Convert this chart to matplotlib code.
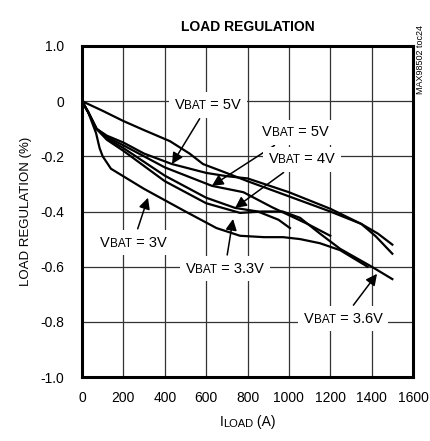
import matplotlib
matplotlib.use("Agg")
import matplotlib.pyplot as plt
from matplotlib.offsetbox import TextArea, HPacker, AnnotationBbox

plt.rcParams['font.family'] = ['Liberation Sans', 'DejaVu Sans']

# courbes (I_LOAD en A, regulation en %)
x_5v_a = [0, 100, 200, 300, 425, 520, 585, 680, 800, 1000, 1200, 1350, 1420, 1500]
y_5v_a = [0, -0.035, -0.072, -0.105, -0.145, -0.19, -0.228, -0.255, -0.29, -0.345, -0.40, -0.445, -0.49, -0.553]

x_5v_b = [0, 30, 70, 120, 200, 300, 435, 600, 700, 800, 1000, 1200, 1350, 1430, 1500]
y_5v_b = [0, -0.04, -0.10, -0.125, -0.15, -0.19, -0.228, -0.26, -0.272, -0.28, -0.33, -0.39, -0.445, -0.48, -0.52]

x_4v = [0, 30, 70, 120, 200, 400, 628, 780, 920, 1090, 1200]
y_4v = [0, -0.04, -0.10, -0.13, -0.16, -0.24, -0.307, -0.33, -0.385, -0.445, -0.488]

x_3v6 = [0, 30, 70, 120, 200, 400, 600, 740, 850, 950, 1005]
y_3v6 = [0, -0.04, -0.10, -0.135, -0.17, -0.27, -0.35, -0.387, -0.40, -0.43, -0.46]

x_3v3 = [0, 30, 70, 120, 200, 400, 600, 764, 870, 970, 1054, 1150, 1247, 1400, 1500]
y_3v3 = [0, -0.04, -0.10, -0.14, -0.18, -0.29, -0.37, -0.405, -0.40, -0.40, -0.423, -0.48, -0.535, -0.60, -0.645]

x_3v = [0, 30, 68, 85, 100, 140, 300, 500, 650, 764, 880, 972, 1054, 1150, 1247, 1380]
y_3v = [0, -0.04, -0.116, -0.17, -0.20, -0.245, -0.318, -0.40, -0.46, -0.488, -0.493, -0.493, -0.50, -0.515, -0.54, -0.60]

x_ticks = [0, 200, 400, 600, 800, 1000, 1200, 1400, 1600]
y_ticks = [0.2, 0, -0.2, -0.4, -0.6, -0.8, -1.0]
y_tick_labels = ['1.0', '0', '-0.2', '-0.4', '-0.6', '-0.8', '-1.0']

fig = plt.figure(figsize=(4.3, 4.41), dpi=100)
ax = fig.add_axes([0.1907, 0.1451, 0.7698, 0.7506])

for xs, ys in [(x_5v_a, y_5v_a), (x_5v_b, y_5v_b), (x_4v, y_4v),
               (x_3v6, y_3v6), (x_3v3, y_3v3), (x_3v, y_3v)]:
    ax.plot(xs, ys, color='black', lw=1.6, solid_joinstyle='round', zorder=3)

ax.set_xlim(0, 1600)
ax.set_ylim(-1.0, 0.2)
ax.set_xticks(x_ticks)
ax.set_yticks(y_ticks)
ax.set_yticklabels(y_tick_labels)
ax.tick_params(length=0, labelsize=10)
ax.tick_params(axis='y', pad=13)
ax.tick_params(axis='x', pad=10)
ax.grid(True, color='#333333', lw=0.9)
for s in ax.spines.values():
    s.set_linewidth(2.2)

ax.set_title("LOAD REGULATION", fontsize=10, fontweight='bold', pad=11)
ax.set_ylabel("LOAD REGULATION (%)", fontsize=9.5, labelpad=6)


def indice(base, sub, reste, taille=10.5):
    return HPacker(children=[
        TextArea(base, textprops=dict(fontsize=taille)),
        TextArea(sub, textprops=dict(fontsize=taille - 2)),
        TextArea(reste, textprops=dict(fontsize=taille)),
    ], align='bottom', pad=0, sep=0)


# axe x : I_LOAD (A)
xl = AnnotationBbox(indice("I", "LOAD", " (A)", 10), xy=(0.5, -0.135),
                    xycoords='axes fraction', frameon=False, annotation_clip=False)
ax.add_artist(xl)

# annotations V_BAT
notes = [
    ("5V", (609, -0.014), (435, -0.228)),
    ("5V", (1030, -0.112), (628, -0.307)),
    ("4V", (1063, -0.21), (740, -0.387)),
    ("3V", (247, -0.513), (319, -0.35)),
    ("3.3V", (691, -0.608), (730, -0.427)),
    ("3.6V", (1262, -0.789), (1426, -0.626)),
]
for val, pos, tip in notes:
    ab = AnnotationBbox(indice("V", "BAT", " = " + val), xy=tip, xybox=pos,
                        boxcoords='data', frameon=True, pad=0.4,
                        bboxprops=dict(fc='white', ec='none'),
                        arrowprops=dict(arrowstyle='-|>', color='black', lw=1.1,
                                        mutation_scale=12, shrinkA=1, shrinkB=0),
                        zorder=4)
    ax.add_artist(ab)

fig.text(0.978, 0.865, "MAX98502 toc24", rotation=90, fontsize=6.5,
         ha='center', va='center')

plt.savefig("out.png")
